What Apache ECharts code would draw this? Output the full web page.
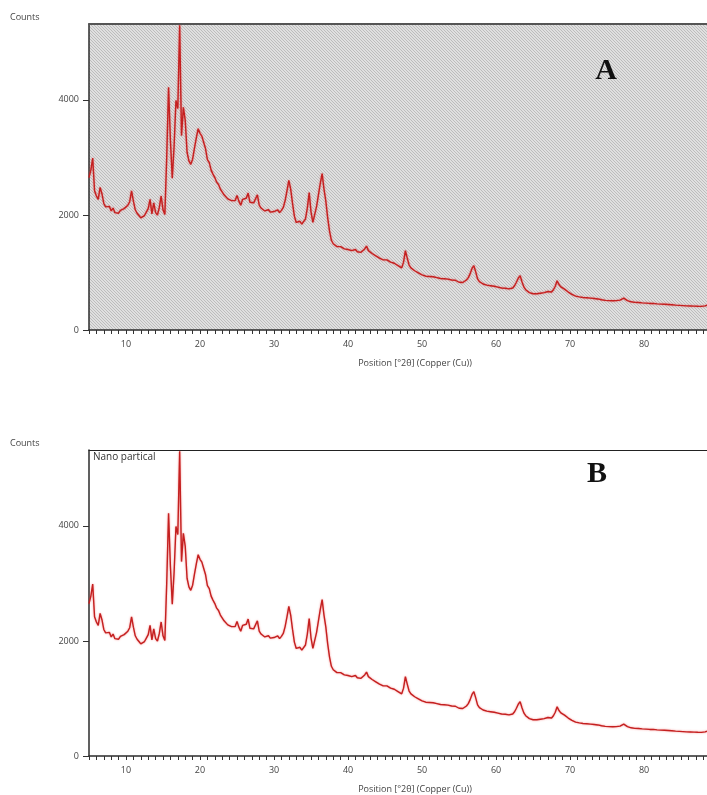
<!DOCTYPE html>
<html lang="en">
<head>
<meta charset="UTF-8">
<title>XRD pattern</title>
<style>html,body{margin:0;padding:0;background:#fff;}</style>
</head>
<body>
<div id="main" style="width:707px;height:795px;"></div>
<script src="https://cdn.jsdelivr.net/npm/echarts@6/dist/echarts.min.js"></script>
<script>
// scan: 2theta from 5 deg, one reading every 0.25 deg
var startAngle = 5;
var angleStep = 0.25;
// counts, one row per degree (x.00, x.25, x.50, x.75)
var counts = [
  2650, 2780, 2990, 2420,   // 5
  2330, 2270, 2480, 2370,   // 6
  2200, 2140, 2110, 2150,   // 7
  2070, 2120, 2040, 2010,   // 8
  2030, 2080, 2050, 2110,   // 9
  2090, 2170, 2230, 2420,   // 10
  2240, 2090, 2030, 1990,   // 11
  1950, 1920, 1990, 2050,   // 12
  2110, 2270, 2020, 2210,   // 13
  2040, 2000, 2130, 2330,   // 14
  2090, 2010, 3000, 4220,   // 15
  3300, 2640, 3200, 3990,   // 16
  3850, 5300, 3380, 3870,   // 17
  3650, 3090, 2940, 2880,   // 18
  2970, 3160, 3340, 3500,   // 19
  3420, 3370, 3260, 3150,   // 20
  2960, 2910, 2780, 2710,   // 21
  2650, 2570, 2530, 2450,   // 22
  2430, 2350, 2340, 2280,   // 23
  2310, 2250, 2230, 2250,   // 24
  2340, 2240, 2170, 2270,   // 25
  2240, 2290, 2380, 2220,   // 26
  2190, 2210, 2240, 2350,   // 27
  2170, 2120, 2100, 2070,   // 28
  2080, 2090, 2050, 2080,   // 29
  2060, 2070, 2090, 2040,   // 30
  2080, 2130, 2250, 2420,   // 31
  2600, 2450, 2200, 1980,   // 32
  1870, 1850, 1890, 1840,   // 33
  1870, 1930, 2120, 2390,   // 34
  2050, 1870, 1900, 2150,   // 35
  2350, 2550, 2720, 2450,   // 36
  2240, 1950, 1720, 1560,   // 37
  1500, 1470, 1450, 1440,   // 38
  1450, 1420, 1410, 1430,   // 39
  1400, 1410, 1380, 1390,   // 40
  1400, 1360, 1380, 1350,   // 41
  1370, 1410, 1460, 1380,   // 42
  1350, 1330, 1300, 1290,   // 43
  1270, 1250, 1250, 1220,   // 44
  1210, 1220, 1190, 1180,   // 45
  1150, 1160, 1130, 1120,   // 46
  1100, 1080, 1180, 1380,   // 47
  1250, 1130, 1080, 1050,   // 48
  1030, 1000, 995, 980,     // 49
  960, 955, 935, 945,       // 50
  930, 920, 925, 905,       // 51
  910, 915, 895, 895,       // 52
  890, 875, 885, 870,       // 53
  870, 860, 865, 845,       // 54
  830, 845, 825, 850,       // 55
  870, 910, 980, 1070,      // 56
  1120, 1010, 890, 840,     // 57
  820, 800, 790, 780,       // 58
  775, 770, 755, 760,       // 59
  750, 745, 740, 730,       // 60
  730, 725, 720, 715,       // 61
  715, 730, 770, 830,       // 62
  900, 945, 840, 750,       // 63
  700, 670, 650, 640,       // 64
  630, 625, 630, 635,       // 65
  640, 645, 650, 660,       // 66
  670, 665, 660, 700,       // 67
  760, 855, 790, 750,       // 68
  730, 710, 680, 660,       // 69
  635, 620, 600, 590,       // 70
  580, 575, 570, 565,       // 71
  560, 560, 555, 555,       // 72
  550, 548, 545, 540,       // 73
  530, 525, 520, 515,       // 74
  512, 510, 510, 508,       // 75
  505, 510, 515, 520,       // 76
  530, 555, 540, 510,       // 77
  495, 490, 485, 480,       // 78
  480, 478, 475, 472,       // 79
  470, 468, 465, 462,       // 80
  460, 462, 458, 455,       // 81
  452, 450, 448, 447,       // 82
  445, 443, 440, 438,       // 83
  436, 432, 430, 428,       // 84
  426, 424, 423, 420,       // 85
  420, 418, 416, 415,       // 86
  414, 412, 410, 411,       // 87
  410, 420, 430             // 88
];
var xLabels = [10, 20, 30, 40, 50, 60, 70, 80];
var yLabels = [0, 2000, 4000];
var xMin = 5, xMax = 88.5, yMax = 5320;

var points = counts.map(function (c, i) {
  return [startAngle + i * angleStep, c];
});

// minor ticks every degree
var xTicks = [];
for (var t = 5; t <= 88; t++) xTicks.push(t);

// hatched background for panel A
var hatch = document.createElement('canvas');
hatch.width = 3;
hatch.height = 3;
var ctx = hatch.getContext('2d');
ctx.fillStyle = '#e0e0e0';
ctx.fillRect(0, 0, 3, 3);
ctx.fillStyle = '#bdbdbd';
for (var i = 0; i < 3; i++) ctx.fillRect(i, i, 1, 1);

var font = 'Open Sans';

function bottomAxis(g) {
  return {
    type: 'value', gridIndex: g, position: 'bottom', min: xMin, max: xMax,
    axisLine: { lineStyle: { color: '#2b2b2b', width: 1.5 } },
    axisTick: { customValues: xTicks, length: 4, lineStyle: { color: '#333' } },
    axisLabel: { customValues: xLabels, margin: 10, fontSize: 9, color: '#444', fontFamily: font },
    splitLine: { show: false }
  };
}
function topAxis(g, w, c) {
  return {
    type: 'value', gridIndex: g, position: 'top', min: xMin, max: xMax,
    axisLine: { lineStyle: { color: c, width: w } },
    axisTick: { show: false }, axisLabel: { show: false }, splitLine: { show: false }
  };
}
function leftAxis(g) {
  return {
    type: 'value', gridIndex: g, min: 0, max: yMax,
    axisLine: { show: true, lineStyle: { color: '#2b2b2b', width: 1.5 } },
    axisTick: { show: true, customValues: yLabels, length: 6, lineStyle: { color: '#333' } },
    axisLabel: {
      customValues: yLabels, margin: 10, fontSize: 9, color: '#444', fontFamily: font,
      formatter: function (v) { return String(v); }
    },
    splitLine: { show: false }
  };
}
function trace(xi, yi) {
  return {
    type: 'line', xAxisIndex: xi, yAxisIndex: yi, data: points,
    showSymbol: false, symbol: 'none',
    lineStyle: { color: '#c42020', width: 1.4, shadowColor: 'rgba(235,40,40,0.55)', shadowBlur: 2 }
  };
}
function label(text, x, y, size, extra) {
  var s = { text: text, fontSize: size, fill: '#444', fontFamily: font, textAlign: 'left', textVerticalAlign: 'middle' };
  for (var k in extra) s[k] = extra[k];
  return { type: 'text', x: x, y: y, style: s, z: 100 };
}

var myChart = echarts.init(document.getElementById('main'));
myChart.setOption({
  animation: false,
  grid: [
    { left: 89, top: 24, right: 0, height: 306, show: true, borderWidth: 0,
      backgroundColor: { image: hatch, repeat: 'repeat' } },
    { left: 89, top: 450, right: 0, height: 306 }
  ],
  xAxis: [bottomAxis(0), topAxis(0, 2, '#555'), bottomAxis(1), topAxis(1, 1.2, '#222')],
  yAxis: [leftAxis(0), leftAxis(1)],
  series: [trace(0, 0), trace(2, 1)],
  graphic: [
    label('Counts', 10, 17, 9),
    label('Counts', 10, 443, 9),
    label('Position [°2θ] (Copper (Cu))', 415, 363, 9, { textAlign: 'center' }),
    label('Position [°2θ] (Copper (Cu))', 415, 789, 9, { textAlign: 'center' }),
    label('Nano partical', 93, 457, 10, { fill: '#333' }),
    label('A', 606, 71, 30, { textAlign: 'center', fill: '#111', fontWeight: 'bold', fontFamily: 'Liberation Serif' }),
    label('B', 597, 474, 30, { textAlign: 'center', fill: '#111', fontWeight: 'bold', fontFamily: 'Liberation Serif' })
  ]
});
</script>
</body>
</html>
